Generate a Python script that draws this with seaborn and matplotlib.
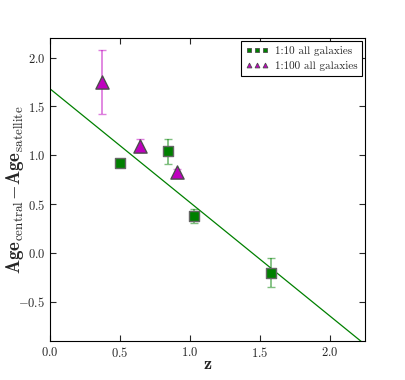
import matplotlib
matplotlib.use('Agg')
import matplotlib.pyplot as plt
from matplotlib.lines import Line2D
import seaborn as sns
import numpy as np
import pandas as pd

# 1:10 all galaxies
z_10 = [0.50, 0.84, 1.03, 1.58]
age_10 = [0.92, 1.04, 0.38, -0.20]
err_10 = [0.04, 0.13, 0.07, 0.15]

# 1:100 all galaxies
z_100 = [0.37, 0.64, 0.91]
age_100 = [1.75, 1.10, 0.83]
err_100 = [0.33, 0.07, 0.03]

# linear fit
fit_z = [0.0, 2.25]
fit_age = [1.68, -0.935]

sns.set_style('ticks')
plt.rcParams['font.family'] = ['cmr10']
plt.rcParams['mathtext.fontset'] = 'cm'
plt.rcParams['axes.formatter.use_mathtext'] = True

fig = plt.figure(figsize=(4.05, 3.8), dpi=100)
ax = fig.add_axes([0.1235, 0.1026, 0.7775, 0.7974])

df10 = pd.DataFrame({'z': z_10, 'age': age_10})
df100 = pd.DataFrame({'z': z_100, 'age': age_100})
dfit = pd.DataFrame({'z': fit_z, 'age': fit_age})

sns.lineplot(data=dfit, x='z', y='age', color='g', lw=0.9, ax=ax)

ax.errorbar(z_10, age_10, yerr=err_10, fmt='none', ecolor='g', alpha=0.5,
            capsize=3, elinewidth=1.3, capthick=1)
ax.errorbar(z_100, age_100, yerr=err_100, fmt='none', ecolor='m', alpha=0.5,
            capsize=3, elinewidth=1.3, capthick=1)

sns.scatterplot(data=df10, x='z', y='age', marker='s', color='g', s=60,
                edgecolor='0.4', linewidth=1, ax=ax, zorder=3, legend=False)
sns.scatterplot(data=df100, x='z', y='age', marker='^', color='m', s=90,
                edgecolor='0.3', linewidth=1, ax=ax, zorder=3, legend=False)

ax.set_xlim(0, 2.25)
ax.set_ylim(-0.9, 2.2)
ax.set_xticks([0.0, 0.5, 1.0, 1.5, 2.0])
ax.set_yticks([-0.5, 0.0, 0.5, 1.0, 1.5, 2.0])
ax.tick_params(direction='in', top=True, right=True, length=4, labelsize=9, width=0.8)
for s in ax.spines.values():
    s.set_linewidth(0.8)
    s.set_color('k')

ax.set_xlabel(r'$\mathbf{z}$', fontsize=13, labelpad=-2)
ax.set_ylabel(r'$\mathbf{Age}_{\rm central}\!-\!\mathbf{Age}_{\rm satellite}$', fontsize=13.5)
ax.yaxis.set_label_coords(-0.075, 0.5)

handles = [
    Line2D([], [], ls='none', marker='s', color='g', mec='0.3', mew=0.6, ms=3.5),
    Line2D([], [], ls='none', marker='^', color='m', mec='0.3', mew=0.6, ms=3.5),
]
leg = ax.legend(handles, ['1:10 all galaxies', '1:100 all galaxies'],
                loc='upper right', numpoints=3, fontsize=8,
                fancybox=False, edgecolor='k', framealpha=1, handletextpad=0.6,
                borderaxespad=0.3, handlelength=2.0)
leg.get_frame().set_linewidth(0.8)

fig.savefig('out.png', dpi=100)
